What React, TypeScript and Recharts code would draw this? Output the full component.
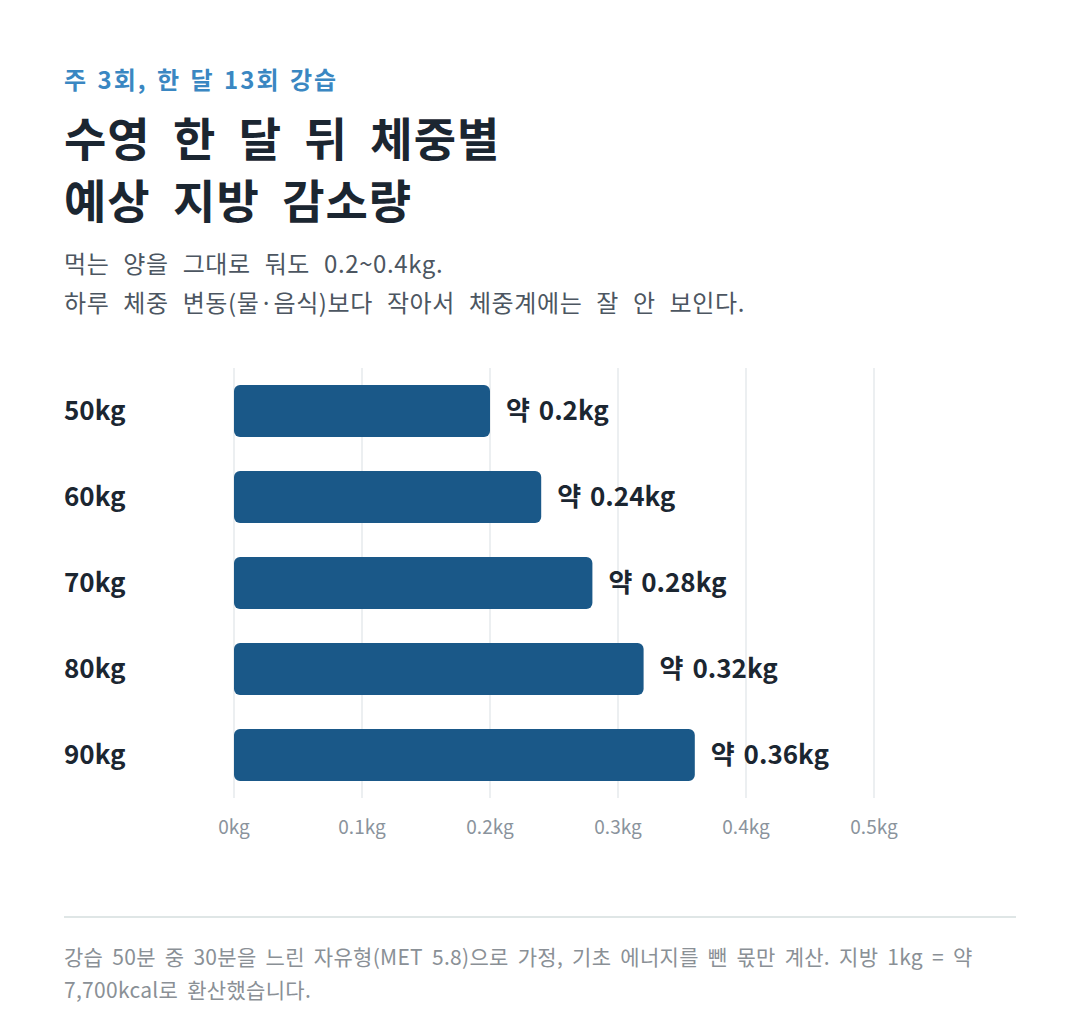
import React from "react";
import { BarChart, Bar, XAxis, YAxis, CartesianGrid, LabelList } from "recharts";

const categories = ["50kg", "60kg", "70kg", "80kg", "90kg"];
const fatLoss = [0.2, 0.24, 0.28, 0.32, 0.36];
const valueLabels = ["약 0.2kg", "약 0.24kg", "약 0.28kg", "약 0.32kg", "약 0.36kg"];
const xTicks = [0, 0.1, 0.2, 0.3, 0.4, 0.5];
const xTickLabels = ["0kg", "0.1kg", "0.2kg", "0.3kg", "0.4kg", "0.5kg"];

const data = categories.map((c, i) => ({ weight: c, loss: fatLoss[i], label: valueLabels[i] }));

const FONT = "'Noto Sans CJK KR', 'Noto Sans', sans-serif";

const YTick = (props: any) => {
  const { y, payload } = props;
  return (
    <text x={56} y={y} dy="0.36em" textAnchor="start" fontSize={26} fontWeight={700} fill="#1b2631" fontFamily={FONT}>
      {payload.value}
    </text>
  );
};

const XTick = (props: any) => {
  const { x, y, payload, index } = props;
  return (
    <text x={x} y={y} dy={36} textAnchor="middle" fontSize={19} fill="#8a939c" fontFamily={FONT}>
      {xTickLabels[index] ?? payload.value}
    </text>
  );
};

export default function App() {
  return (
    <div style={{ position: "relative", width: 1064, height: 994, background: "#fff", fontFamily: FONT }}>
      <div style={{ position: "absolute", left: 56, top: 56, fontSize: 24, fontWeight: 700, color: "#3a87c2", lineHeight: "30px", letterSpacing: 2, wordSpacing: 2, whiteSpace: "nowrap" }}>
        주 3회, 한 달 13회 강습
      </div>
      <div style={{ position: "absolute", left: 56, top: 97, fontSize: 46, fontWeight: 700, color: "#1b2631", lineHeight: "62px", letterSpacing: 1, wordSpacing: 11, whiteSpace: "nowrap" }}>
        수영 한 달 뒤 체중별
        <br />
        예상 지방 감소량
      </div>
      <div style={{ position: "absolute", left: 56, top: 235, fontSize: 24, color: "#4c5661", lineHeight: "39px", letterSpacing: 0.6, wordSpacing: 8, whiteSpace: "nowrap" }}>
        먹는 양을 그대로 둬도 0.2~0.4kg.
        <br />
        하루 체중 변동(물·음식)보다 작아서 체중계에는 잘 안 보인다.
      </div>
      <div style={{ position: "absolute", left: 0, top: 340 }}>
        <BarChart
          width={1064}
          height={520}
          data={data}
          layout="vertical"
          margin={{ top: 20, right: 198, bottom: 0, left: 0 }}
          barCategoryGap={34}
        >
          <CartesianGrid horizontal={false} vertical={true} stroke="#e6eaed" strokeWidth={1.5} />
          <XAxis
            type="number"
            domain={[0, 0.5]}
            ticks={xTicks}
            axisLine={false}
            tickLine={false}
            tickSize={0}
            tickMargin={0}
            tick={<XTick />}
            height={70}
            interval={0}
          />
          <YAxis
            type="category"
            dataKey="weight"
            width={226}
            axisLine={false}
            tickLine={false}
            tick={<YTick />}
          />
          <Bar dataKey="loss" fill="#1a5888" barSize={52} radius={6} isAnimationActive={false}>
            <LabelList
              dataKey="label"
              position="right"
              offset={16}
              fontSize={26}
              fontWeight={700}
              fill="#1b2631"
              fontFamily={FONT}
              style={{ wordSpacing: 3 }}
            />
          </Bar>
        </BarChart>
      </div>
      <div style={{ position: "absolute", left: 56, top: 908, width: 952, height: 2, background: "#dfe6e6" }} />
      <div style={{ position: "absolute", left: 56, top: 932, fontSize: 21, color: "#8a9096", lineHeight: "33px", letterSpacing: 0.3, wordSpacing: 4, whiteSpace: "nowrap" }}>
        강습 50분 중 30분을 느린 자유형(MET 5.8)으로 가정, 기초 에너지를 뺀 몫만 계산. 지방 1kg = 약
        <br />
        7,700kcal로 환산했습니다.
      </div>
    </div>
  );
}
